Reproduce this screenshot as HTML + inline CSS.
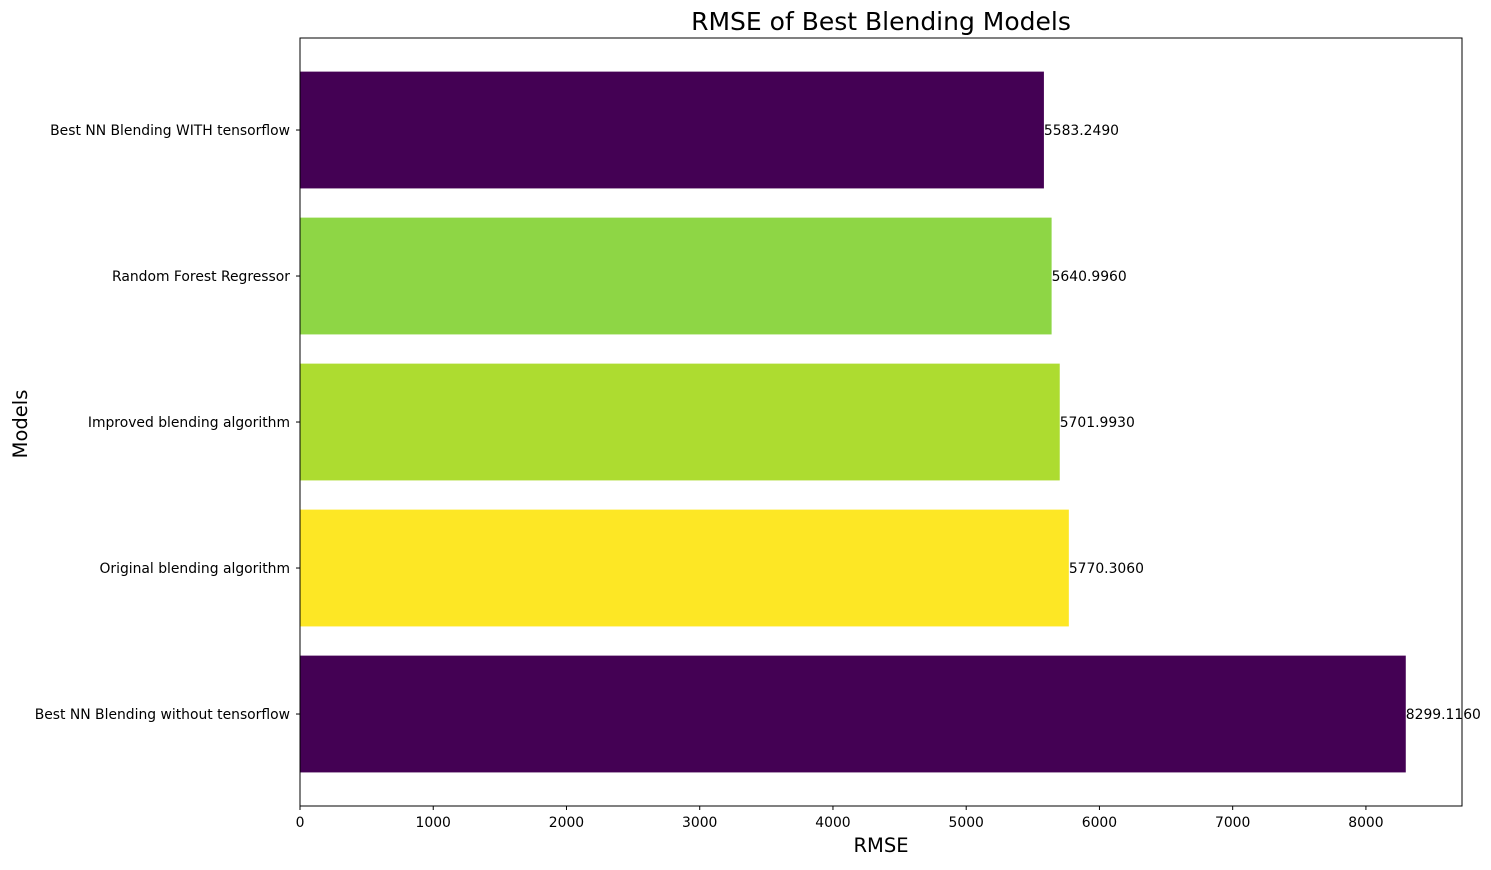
<!DOCTYPE html>
<html><head><meta charset="utf-8"><style>
body{margin:0;background:#fff}
svg text{font-family:"DejaVu Sans","Liberation Sans",sans-serif}
</style></head><body>
<svg id="chart" width="1491" height="865" xmlns="http://www.w3.org/2000/svg">
<text x="881" y="30" font-size="25" text-anchor="middle">RMSE of Best Blending Models</text>
<text x="881" y="852" font-size="19.5" text-anchor="middle">RMSE</text>
<text transform="translate(27,424) rotate(-90)" font-size="19.5" text-anchor="middle">Models</text>
<g id="plot"></g>
<rect x="300" y="38" width="1162" height="768" fill="none" stroke="#000" stroke-width="1"/>
</svg>
<script>
const categories = ["Best NN Blending without tensorflow","Original blending algorithm","Improved blending algorithm","Random Forest Regressor","Best NN Blending WITH tensorflow"];
const values = [8299.116, 5770.306, 5701.993, 5640.996, 5583.249];
const colors = ["#440154","#fde725","#addc30","#8ed645","#440154"];
const xTicks = [0,1000,2000,3000,4000,5000,6000,7000,8000];
const plotLeft=300, plotTop=38, plotBottom=806;
const pxPer = 0.13324;
const xs = v => plotLeft + v*pxPer;
const unit = 146;
const ys = i => plotBottom - (i+0.63)*unit;
const g = document.getElementById('plot');
const NS="http://www.w3.org/2000/svg";
const fs = 13.9;
function mk(t,a){const e=document.createElementNS(NS,t);for(const k in a)e.setAttribute(k,a[k]);return e;}
categories.forEach((c,i)=>{
  const cy=ys(i);
  const r=mk('rect',{x:plotLeft,y:cy-0.4*unit,width:xs(values[i])-plotLeft,height:0.8*unit,fill:colors[i]});
  
  
  g.appendChild(r);
  const v=mk('text',{x:xs(values[i]),y:cy+5,'font-size':fs});
  v.textContent=values[i].toFixed(4);
  
  
  g.appendChild(v);
  const tk=mk('line',{x1:plotLeft-4,x2:plotLeft,y1:cy,y2:cy,stroke:'#000'});
  
  
  g.appendChild(tk);
  const l=mk('text',{x:plotLeft-10,y:cy+5,'font-size':fs,'text-anchor':'end'});
  l.textContent=c;
  
  
  g.appendChild(l);
});
xTicks.forEach(t=>{
  const x=xs(t);
  const tk=mk('line',{x1:x,x2:x,y1:plotBottom,y2:plotBottom+4,stroke:'#000'});
  
  
  g.appendChild(tk);
  const l=mk('text',{x:x,y:plotBottom+21,'font-size':fs,'text-anchor':'middle'});
  l.textContent=t;
  
  
  g.appendChild(l);
});
</script>
</body></html>
